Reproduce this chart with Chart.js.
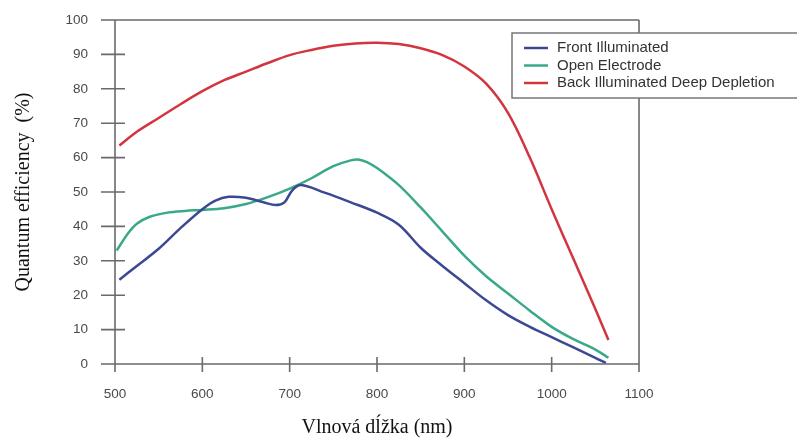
<!DOCTYPE html>
<html>
<head>
<meta charset="utf-8">
<script src="https://cdn.jsdelivr.net/npm/chart.js@4.4.1/dist/chart.umd.min.js"></script>
<style>
  body { margin: 0; background: #fff; }
  #wrap { width: 797px; height: 438px; }
</style>
</head>
<body>
<div id="wrap"><canvas id="qeChart" width="797" height="438"></canvas></div>
<script>
// values (wavelength in nm, QE in %)
const frontNm = [505, 525, 550, 575, 600, 615, 630, 650, 670, 684, 694, 703, 713, 740, 770, 800, 825, 850, 875, 900, 925, 950, 975, 1000, 1025, 1050, 1062];
const frontQe = [24.5, 28.5, 33.5, 39.5, 45, 47.5, 48.6, 48.3, 47, 46.2, 47, 50.5, 52, 49.8, 47, 44, 40.5, 33.8, 28.5, 23.5, 18.5, 14.2, 10.8, 7.8, 4.8, 1.8, 0.3];

const openNm = [502, 515, 525, 540, 560, 580, 600, 625, 650, 675, 700, 725, 750, 770, 780, 790, 800, 825, 850, 875, 900, 925, 950, 975, 1000, 1025, 1050, 1065];
const openQe = [33, 38, 40.8, 42.8, 44, 44.5, 44.8, 45.3, 46.5, 48.5, 51, 54, 57.5, 59.2, 59.4, 58.5, 57, 52, 45.5, 38.5, 31.5, 25.5, 20.5, 15.5, 10.8, 7.2, 4.2, 1.8];

const backNm = [505, 525, 550, 575, 600, 625, 650, 675, 700, 725, 750, 775, 800, 825, 850, 875, 900, 925, 950, 975, 1000, 1025, 1050, 1065];
const backQe = [63.5, 67.5, 71.5, 75.5, 79.3, 82.5, 85, 87.5, 89.8, 91.3, 92.5, 93.2, 93.4, 93, 91.8, 89.8, 86.5, 81.5, 73, 60, 45, 30.5, 16, 7];

const seriesLabels = ['Front Illuminated', 'Open Electrode', 'Back Illuminated Deep Depletion'];
const seriesColors = ['#3b4894', '#3aa88a', '#d3353f'];

const xTicks = [500, 600, 700, 800, 900, 1000, 1100];
const yTicks = [0, 10, 20, 30, 40, 50, 60, 70, 80, 90, 100];

function toPoints(xs, ys) {
    return xs.map((x, i) => ({ x: x, y: ys[i] }));
}

// frame, crossing tick marks and the boxed legend
const framePlugin = {
    id: 'frame',
    afterDatasetsDraw(chart) {
        const { ctx, chartArea: a, scales: { x, y } } = chart;
        ctx.save();
        ctx.strokeStyle = '#6a6a6a';
        ctx.lineWidth = 1.6;
        ctx.beginPath();
        ctx.moveTo(a.left - 14, a.top); ctx.lineTo(a.right, a.top);
        ctx.moveTo(a.left - 14, a.bottom); ctx.lineTo(a.right, a.bottom);
        ctx.moveTo(a.left, a.top); ctx.lineTo(a.left, a.bottom + 8);
        ctx.moveTo(a.right, a.top); ctx.lineTo(a.right, a.bottom + 8);
        yTicks.forEach(v => {
            const py = y.getPixelForValue(v);
            ctx.moveTo(a.left - 14, py); ctx.lineTo(a.left + 10, py);
        });
        xTicks.forEach(v => {
            const px = x.getPixelForValue(v);
            ctx.moveTo(px, a.bottom - 7); ctx.lineTo(px, a.bottom + 8);
        });
        ctx.stroke();

        // legend box (runs off the right edge like the original)
        const bx = 512, by = 33, bw = 300, bh = 65;
        ctx.fillStyle = '#fff';
        ctx.fillRect(bx, by, bw, bh);
        ctx.strokeStyle = '#777';
        ctx.lineWidth = 1.5;
        ctx.strokeRect(bx, by, bw, bh);
        ctx.font = '15px "Liberation Sans", Arial, sans-serif';
        ctx.textBaseline = 'middle';
        ctx.fillStyle = '#333';
        chart.data.datasets.forEach((ds, i) => {
            const ly = 48 + i * 17.5;
            ctx.strokeStyle = ds.borderColor;
            ctx.lineWidth = 2.5;
            ctx.beginPath();
            ctx.moveTo(524, ly); ctx.lineTo(548, ly);
            ctx.stroke();
            ctx.fillText(ds.label, 557, ly);
        });
        ctx.restore();
    }
};

const tickFont = { family: '"Liberation Sans", Arial, sans-serif', size: 13.5 };
const titleFont = { family: '"Liberation Serif", "Times New Roman", serif', size: 20, lineHeight: 1 };

const ctx = document.getElementById('qeChart').getContext('2d');
new Chart(ctx, {
    type: 'line',
    data: {
        datasets: [
            { label: seriesLabels[0], data: toPoints(frontNm, frontQe), borderColor: seriesColors[0] },
            { label: seriesLabels[1], data: toPoints(openNm, openQe), borderColor: seriesColors[1] },
            { label: seriesLabels[2], data: toPoints(backNm, backQe), borderColor: seriesColors[2] }
        ]
    },
    options: {
        responsive: false,
        animation: false,
        layout: { padding: { top: 20, right: 158, left: 0, bottom: 0 } },
        elements: {
            point: { radius: 0 },
            line: { borderWidth: 2.5, tension: 0.35, fill: false }
        },
        plugins: { legend: { display: false }, tooltip: { enabled: false } },
        scales: {
            x: {
                type: 'linear',
                min: 500, max: 1100,
                afterFit: s => { s.height = 74; },
                afterBuildTicks: s => { s.ticks = xTicks.map(v => ({ value: v })); },
                grid: { display: false, drawTicks: false },
                border: { display: false },
                ticks: { padding: 22, color: '#4a4a4a', font: tickFont, maxRotation: 0, callback: v => String(v) },
                title: {
                    display: true, text: 'Vlnová dĺžka (nm)', color: '#111',
                    font: titleFont, padding: { top: 0, bottom: 0 }
                }
            },
            y: {
                min: 0, max: 100,
                afterFit: s => { s.width = 115; s.paddingTop = 0; s.paddingBottom = 0; },
                afterBuildTicks: s => { s.ticks = yTicks.map(v => ({ value: v })); },
                grid: { display: false, drawTicks: false },
                border: { display: false },
                ticks: { padding: 27, color: '#4a4a4a', font: tickFont, callback: v => String(v) },
                title: {
                    display: true, text: 'Quantum efficiency  (%)', color: '#111',
                    font: titleFont, padding: { top: 14, bottom: 0 }
                }
            }
        }
    },
    plugins: [framePlugin]
});
</script>
</body>
</html>
